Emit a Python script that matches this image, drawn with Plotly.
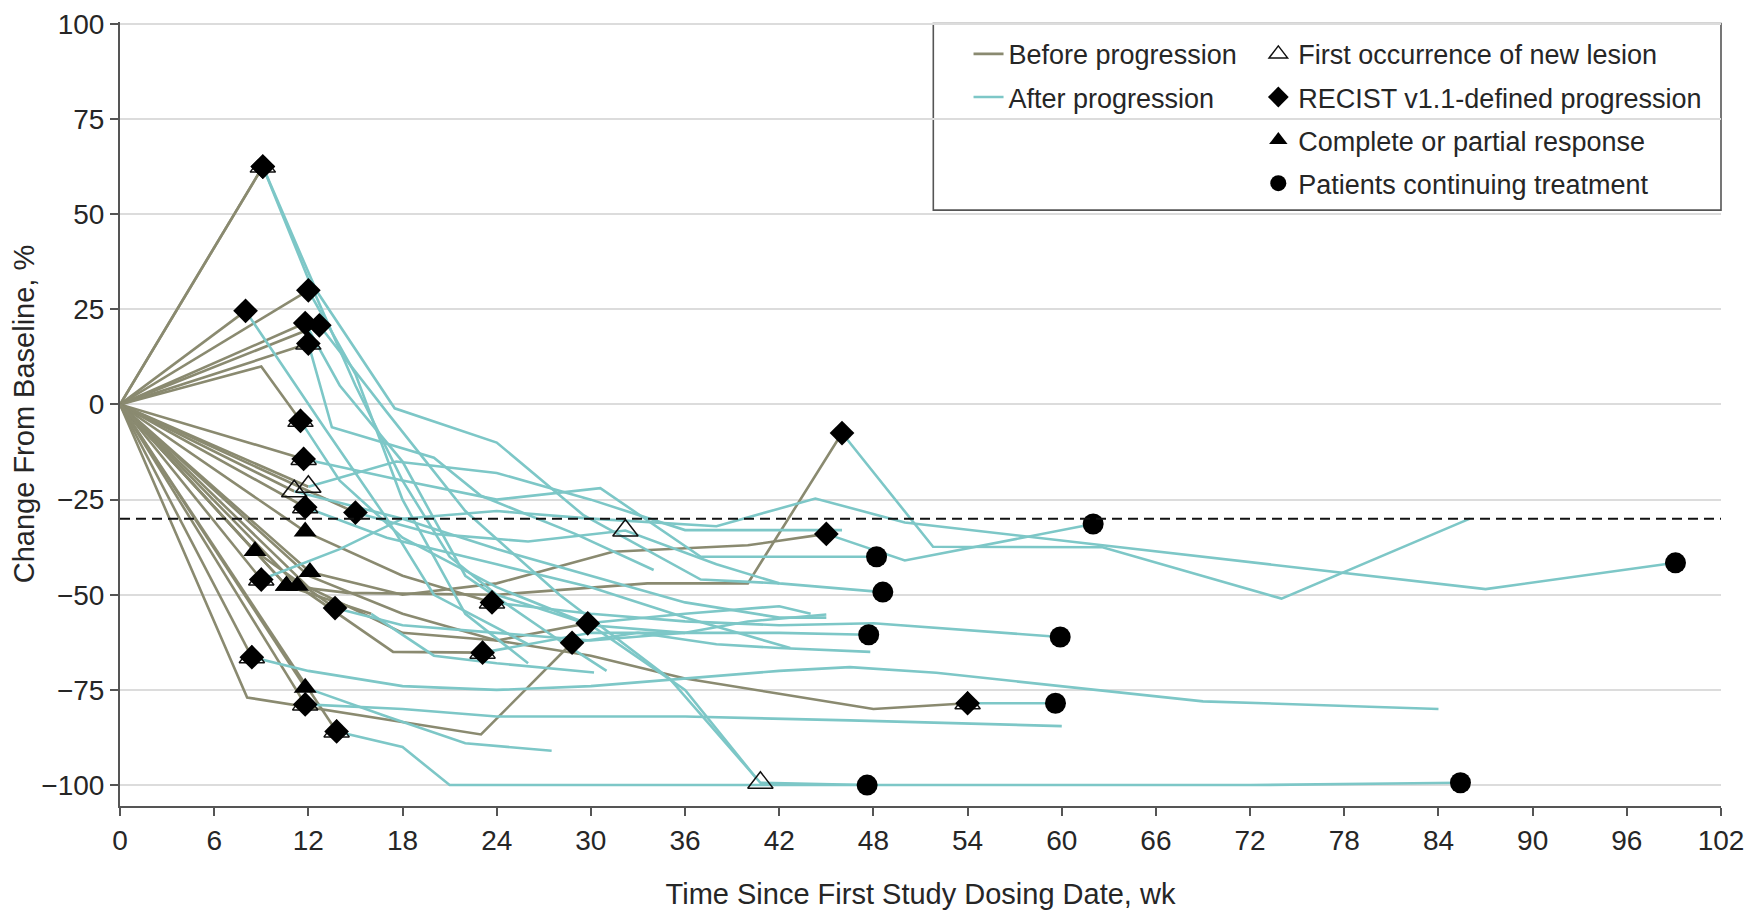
import plotly.graph_objects as go

# ---------------- data ----------------
# one entry per patient: weeks since first dose, % change from baseline
WEEKS = [
    [0, 9.1, 12.5, 17.5, 24, 29.5, 37, 42],
    [0, 9.1, 12, 15, 18, 21, 24, 30, 36],
    [0, 8, 13, 17, 20, 26],
    [0, 12, 15, 18, 22, 26],
    [0, 11.8, 14, 18, 22, 28, 31],
    [0, 12.7, 17, 22, 28, 35, 40.8, 47.6],
    [0, 12, 13.5, 20, 23, 29, 34],
    [0, 9, 11.5, 14, 18, 24, 30, 36, 40.5],
    [0, 11.7, 18, 24, 30.6, 37, 42, 48.2],
    [0, 11.1, 18, 24, 30, 36, 42, 45],
    [0, 12, 17.6, 24, 30, 36, 42, 46],
    [0, 11.8, 17, 24, 30, 36, 42.7],
    [0, 15, 20, 26, 32.2, 38, 42, 48.6],
    [0, 11.8, 18, 23.7, 30, 36, 42, 48, 59.9],
    [0, 12.1, 18, 24, 31.4, 40, 45, 50, 62],
    [0, 10.6, 14.5, 24, 33.6, 40, 46, 51.8, 62.6, 74, 86],
    [0, 9, 14, 18, 24, 30, 38, 44.3, 50, 62.6, 87, 99.1],
    [0, 8.6, 13.7, 18, 24, 30, 36, 40, 45],
    [0, 11.3, 17.4, 23.1, 30, 36, 42, 47.7],
    [0, 8.1, 23, 28.8, 33, 38, 42, 47.8],
    [0, 12, 18, 24, 29.8, 36, 42, 44],
    [0, 12, 18, 24, 30, 36, 42, 48, 54, 59.6],
    [0, 8.4, 12, 18, 24, 30, 36, 42, 46.5, 52, 69, 84],
    [0, 11.8, 17, 22, 27.5],
    [0, 11.8, 18, 24, 36, 46.5, 60],
    [0, 13.8, 18, 21, 30, 40.8, 48, 60, 72, 85.4],
    [0, 10.6, 16, 20, 24, 30.2],
]
CHANGE = [
    [0, 62.5, 30, -1, -10, -29, -46, -47],
    [0, 62.5, 33, 5, -20, -40, -50, -58, -60],
    [0, 24.6, -6, -30, -50, -63],
    [0, 30, 8, -25, -55, -68],
    [0, 21.4, 5, -15, -45, -62, -70],
    [0, 20.8, -2, -28, -50, -72, -99.4, -100],
    [0, 16, -6, -14, -24, -34, -43.5],
    [0, 10, -4.3, -20, -35, -48, -58, -75, -98],
    [0, -14.3, -20, -25, -22, -40, -40, -40],
    [0, -22.8, -30, -38, -45, -52, -56, -56],
    [0, -21.6, -15, -18, -25, -33, -33, -33],
    [0, -27, -35, -42, -48, -56, -64],
    [0, -28.4, -34, -36, -33.1, -42, -47, -49.3],
    [0, -33.4, -45, -52, -55, -57, -58, -57.5, -61.1],
    [0, -44, -50, -47, -38.7, -37, -34, -41, -31.4],
    [0, -47.6, -49.5, -50, -47, -47, -7.5, -37.4, -37.5, -51, -30],
    [0, -46, -38, -30, -28, -30, -32, -24.7, -31, -37, -48.5, -41.6],
    [0, -38.5, -53.5, -58, -60, -62, -60, -57, -55.2],
    [0, -47.6, -65, -65.2, -60, -60, -60, -60.5],
    [0, -77, -86.7, -62.6, -60, -63, -64, -65],
    [0, -48, -60, -62, -57.5, -55, -53, -55],
    [0, -45, -55, -62, -66, -72, -76, -80, -78.5, -78.5],
    [0, -66.4, -70, -74, -75, -74, -72, -70, -69, -70.5, -78, -80],
    [0, -74.4, -82, -89, -91],
    [0, -78.8, -80, -82, -82, -83, -84.5],
    [0, -85.9, -90, -100, -100, -100, -100, -100, -100, -99.4],
    [0, -47.6, -55, -66, -68, -70.4],
]
# index of the visit where progression occurred (line turns from olive to teal)
PROGRESSION_AT = [1, 1, 1, 1, 1, 1, 1, 2, 1, 1, 1, 1, 1, 3, 6, 6, 1, 2, 3, 3, 4, 8, 1, 1, 1, 1, 2]
# whether that progression is RECIST v1.1-defined (diamond)
RECIST_PROGRESSION = [1, 1, 1, 1, 1, 1, 1, 1, 1, 0, 0, 1, 1, 1, 1, 1, 1, 1, 1, 1, 1, 1, 1, 0, 1, 1, 0]
# index of the visit with complete/partial response (None = no response)
RESPONSE_AT = [None, None, None, None, None, None, None, None, None, None, None, None, None,
               1, 1, 1, None, 1, 1, None, None, None, None, 1, None, None, 1]
# index of first occurrence of new lesion (None = none)
NEW_LESION_AT = [1, None, None, None, None, 6, 1, 2, 1, 1, 1, 1, 4, 3, None, None, 1, None, 3,
                 None, None, 8, 1, None, 1, 1, None]
# patient still on treatment (circle at last visit)
CONTINUING = [0, 0, 0, 0, 0, 1, 0, 0, 1, 0, 0, 0, 1, 1, 1, 0, 1, 0, 1, 0, 0, 1, 0, 0, 0, 1, 0]

RESPONSE_THRESHOLD = -30
X_TICKS = list(range(0, 103, 6))
Y_TICKS = [-100, -75, -50, -25, 0, 25, 50, 75, 100]

OLIVE = "#8a8a70"
TEAL = "#7dc7c7"
FONT = "Liberation Sans, Arial, sans-serif"
TXT = "#262626"

# ---------------- build traces ----------------
ox, oy, cx, cy = [], [], [], []
for wk, val, p in zip(WEEKS, CHANGE, PROGRESSION_AT):
    ox += wk[:p + 1] + [None]
    oy += val[:p + 1] + [None]
    cx += wk[p:] + [None]
    cy += val[p:] + [None]

def pick(idx_list, flag=None):
    xs, ys = [], []
    for i, (wk, val) in enumerate(zip(WEEKS, CHANGE)):
        k = idx_list[i]
        if k is None:
            continue
        if flag is not None and not flag[i]:
            continue
        xs.append(wk[k]); ys.append(val[k])
    return xs, ys

lx, ly = pick(NEW_LESION_AT)
dx, dy = pick(PROGRESSION_AT, RECIST_PROGRESSION)
rx, ry = pick(RESPONSE_AT)
ex = [wk[-1] for wk, c in zip(WEEKS, CONTINUING) if c]
ey = [val[-1] for val, c in zip(CHANGE, CONTINUING) if c]

fig = go.Figure()
fig.add_trace(go.Scatter(x=ox, y=oy, mode="lines", line=dict(color=OLIVE, width=2.6),
                         name="Before progression", legend="legend", legendgroup="a",
                         hoverinfo="skip"))
fig.add_trace(go.Scatter(x=cx, y=cy, mode="lines", line=dict(color=TEAL, width=2.6),
                         name="After progression", legend="legend", legendgroup="b",
                         hoverinfo="skip"))
fig.add_trace(go.Scatter(x=lx, y=ly, mode="markers",
                         marker=dict(symbol="triangle-up-open", size=22, color="#111",
                                     line=dict(width=1.5, color="#111")),
                         name="First occurrence of new lesion", legend="legend2", legendgroup="c"))
fig.add_trace(go.Scatter(x=dx, y=dy, mode="markers",
                         marker=dict(symbol="diamond", size=19, color="#000"),
                         name="RECIST v1.1-defined progression", legend="legend2", legendgroup="d"))
fig.add_trace(go.Scatter(x=rx, y=ry, mode="markers",
                         marker=dict(symbol="triangle-up", size=20, color="#000"),
                         name="Complete or partial response", legend="legend2", legendgroup="e"))
fig.add_trace(go.Scatter(x=ex, y=ey, mode="markers",
                         marker=dict(symbol="circle", size=21, color="#000"),
                         name="Patients continuing treatment", legend="legend2", legendgroup="f"))

fig.add_hline(y=RESPONSE_THRESHOLD, line=dict(color="#111", width=2, dash="10px,6px"),
              layer="above")

# legend frame
fig.add_shape(type="rect", xref="paper", yref="paper", x0=0.508, x1=1.0, y0=0.760, y1=0.998,
              line=dict(color="#555", width=1.6), fillcolor="white", layer="between")

leg_common = dict(font=dict(family=FONT, size=27, color=TXT), bgcolor="rgba(0,0,0,0)",
                  borderwidth=0, tracegroupgap=5, xanchor="left", yanchor="top",
                  itemclick=False, itemdoubleclick=False)
# page body has an 8px margin, so the figure is sized/offset to place the plot area
fig.update_layout(
    width=1756, height=902,
    margin=dict(l=112, r=43, t=14, b=104, autoexpand=False),
    paper_bgcolor="white", plot_bgcolor="white",
    font=dict(family=FONT, size=28, color=TXT),
    showlegend=True,
    legend=dict(x=0.530, y=0.990, **leg_common),
    legend2=dict(x=0.711, y=0.990, **leg_common),
    xaxis=dict(range=[0, 102], tickvals=X_TICKS, showgrid=False, zeroline=False,
               showline=True, linecolor="#555", linewidth=2, ticks="outside", ticklen=8,
               tickwidth=2, tickcolor="#555", tickfont=dict(size=28, color=TXT),
               ticklabeloverflow="allow", automargin=False,
               title=dict(text="Time Since First Study Dosing Date, wk",
                          font=dict(size=29, color=TXT), standoff=34)),
    yaxis=dict(range=[-105.5, 100.5], tickvals=Y_TICKS, showgrid=True, gridcolor="#dcdcdc",
               gridwidth=2, zeroline=False, showline=True, linecolor="#555", linewidth=2,
               ticks="outside", ticklen=8, tickwidth=2, tickcolor="#555",
               tickfont=dict(size=28, color=TXT), ticklabeloverflow="allow", automargin=False,
               title=dict(text="Change From Baseline, %", font=dict(size=29, color=TXT),
                          standoff=2)),
)

fig.write_html("out.html")
